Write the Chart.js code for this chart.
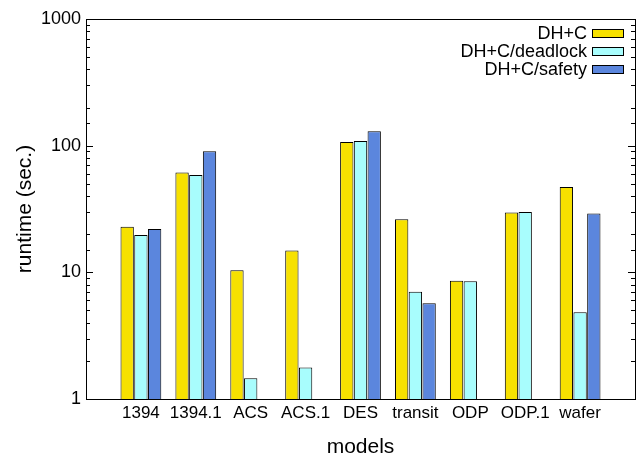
<!DOCTYPE html>
<html>
<head>
<meta charset="utf-8">
<script src="https://cdn.jsdelivr.net/npm/chart.js@4"></script>
<style>
  html, body { margin: 0; padding: 0; background: #fff; }
</style>
</head>
<body>
<canvas id="runtimeChart" width="640" height="457"></canvas>
<script>
// models along the x axis
const models = ['1394', '1394.1', 'ACS', 'ACS.1', 'DES', 'transit', 'ODP', 'ODP.1', 'wafer'];
// runtime in seconds, null = no bar
const dhc = [22.9, 61.5, 10.4, 14.9, 106.7, 26.2, 8.6, 29.7, 47.1];
const dhcDeadlock = [19.7, 58.6, 1.46, 1.77, 109, 7.03, 8.5, 29.9, 4.83];
const dhcSafety = [22.0, 90.2, null, null, 130, 5.69, null, null, 29.2];
const yMajorTicks = [1, 10, 100, 1000];

const fontFamily = '"Liberation Sans", Arial, Helvetica, sans-serif';

// gnuplot-ish x range: one empty slot on each side
const pad = arr => [null, ...arr, null];
const labels = ['', ...models, ''];

// box frame + inward ticks on both y sides
const frameAndTicks = {
    id: 'frameAndTicks',
    afterDraw(chart) {
        const { ctx, chartArea: a } = chart;
        const y = chart.scales.y;
        ctx.save();
        ctx.strokeStyle = '#000';
        ctx.lineWidth = 1;
        ctx.strokeRect(Math.round(a.left) + 0.5, Math.round(a.top) + 0.5,
            Math.round(a.right - a.left), Math.round(a.bottom - a.top));
        ctx.beginPath();
        y.ticks.forEach(t => {
            const py = Math.round(y.getPixelForValue(t.value)) + 0.5;
            const major = yMajorTicks.includes(t.value);
            const len = major ? 7 : 4;
            ctx.moveTo(a.left, py); ctx.lineTo(a.left + len, py);
            ctx.moveTo(a.right, py); ctx.lineTo(a.right - len, py);
        });
        ctx.stroke();
        ctx.restore();
    }
};

// legend in gnuplot style: text on the left, swatch on the right
const keyBox = {
    id: 'keyBox',
    afterDraw(chart) {
        const { ctx, chartArea: a } = chart;
        ctx.save();
        ctx.font = '18px ' + fontFamily;
        ctx.textAlign = 'right';
        ctx.textBaseline = 'middle';
        chart.data.datasets.forEach((ds, i) => {
            const cy = a.top + 14 + i * 18;
            ctx.fillStyle = '#000';
            ctx.fillText(ds.label, a.right - 48, cy + 1);
            ctx.fillStyle = ds.backgroundColor;
            ctx.fillRect(a.right - 43, cy - 4, 31, 8);
            ctx.strokeStyle = '#000';
            ctx.lineWidth = 1;
            ctx.strokeRect(a.right - 43 + 0.5, cy - 4 + 0.5, 31, 8);
        });
        ctx.restore();
    }
};

const ctx = document.getElementById('runtimeChart').getContext('2d');
const runtimeChart = new Chart(ctx, {
    type: 'bar',
    data: {
        labels: labels,
        datasets: [{
            label: 'DH+C',
            data: pad(dhc),
            backgroundColor: '#f7e100',
            borderColor: '#000',
            borderWidth: 1
        }, {
            label: 'DH+C/deadlock',
            data: pad(dhcDeadlock),
            backgroundColor: '#a8fdfd',
            borderColor: '#000',
            borderWidth: 1
        }, {
            label: 'DH+C/safety',
            data: pad(dhcSafety),
            backgroundColor: '#5b86dd',
            borderColor: '#000',
            borderWidth: 1
        }]
    },
    options: {
        responsive: false,
        animation: false,
        categoryPercentage: 0.75,
        barPercentage: 0.97,
        layout: { padding: { left: 0, right: 5, top: 19, bottom: 0 } },
        scales: {
            x: {
                offset: false,
                grid: { display: false, drawTicks: false },
                border: { display: false },
                ticks: {
                    color: '#000',
                    font: { family: fontFamily, size: 17 },
                    padding: 4,
                    maxRotation: 0,
                    autoSkip: false
                },
                title: {
                    display: true,
                    text: 'models',
                    color: '#000',
                    font: { family: fontFamily, size: 21 },
                    padding: { top: 0, bottom: -3 }
                },
                afterFit(scale) { scale.height = 58; }
            },
            y: {
                type: 'logarithmic',
                min: 1,
                max: 1000,
                grid: { display: false, drawTicks: false },
                border: { display: false },
                ticks: {
                    color: '#000',
                    font: { family: fontFamily, size: 18 },
                    padding: 5,
                    autoSkip: false,
                    callback: v => yMajorTicks.includes(v) ? String(v) : ''
                },
                title: {
                    display: true,
                    text: 'runtime (sec.)',
                    color: '#000',
                    font: { family: fontFamily, size: 21 },
                    padding: { top: 13, bottom: 0 }
                },
                afterFit(scale) { scale.width = 86; }
            }
        },
        plugins: {
            legend: { display: false },
            tooltip: { enabled: false }
        }
    },
    plugins: [frameAndTicks, keyBox]
});
</script>
</body>
</html>
